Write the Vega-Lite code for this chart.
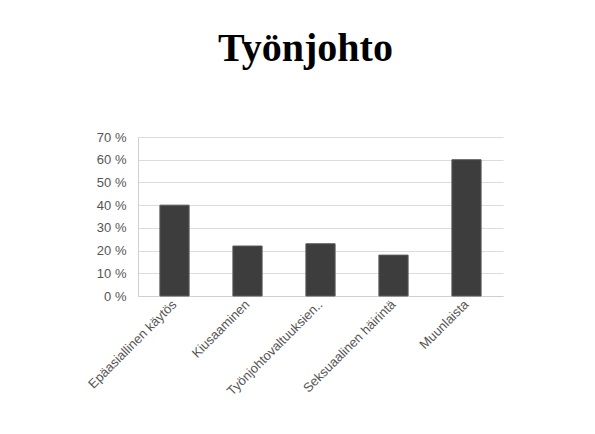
{
  "$schema": "https://vega.github.io/schema/vega-lite/v6.json",
  "autosize": {"type": "none"},
  "padding": {"left": 138, "top": 137, "right": 92, "bottom": 138},
  "width": 365,
  "height": 159,
  "background": "white",
  "title": {
    "text": "Työnjohto",
    "font": "Liberation Serif",
    "fontSize": 40,
    "fontWeight": "bold",
    "color": "black",
    "anchor": "middle",
    "dx": -15,
    "offset": 62
  },
  "data": {
    "values": [
      {"kategoria": "Epäasiallinen käytös", "osuus": 40},
      {"kategoria": "Kiusaaminen", "osuus": 22},
      {"kategoria": "Työnjohtovaltuuksien..", "osuus": 23},
      {"kategoria": "Seksuaalinen häirintä", "osuus": 18},
      {"kategoria": "Muunlaista", "osuus": 60}
    ]
  },
  "mark": {"type": "bar", "color": "#3d3d3d", "stroke": "#5a5a5a", "strokeWidth": 1},
  "encoding": {
    "x": {
      "field": "kategoria",
      "type": "nominal",
      "sort": null,
      "title": null,
      "scale": {"paddingInner": 0.6, "paddingOuter": 0.3},
      "axis": {
        "labelAngle": -45,
        "labelAlign": "right",
        "labelBaseline": "middle",
        "labelFont": "Liberation Sans",
        "labelFontSize": 13,
        "labelColor": "#555555",
        "labelPadding": 6,
        "labelLimit": 200,
        "ticks": false,
        "domainColor": "#d0d0d0",
        "grid": false
      }
    },
    "y": {
      "field": "osuus",
      "type": "quantitative",
      "title": null,
      "scale": {"domain": [0, 70]},
      "axis": {
        "values": [0, 10, 20, 30, 40, 50, 60, 70],
        "labelExpr": "datum.value + ' %'",
        "labelFont": "Liberation Sans",
        "labelFontSize": 13,
        "labelColor": "#555555",
        "labelPadding": 12,
        "ticks": false,
        "domainColor": "#d0d0d0",
        "gridColor": "#dcdcdc"
      }
    }
  },
  "config": {"view": {"stroke": null}}
}
